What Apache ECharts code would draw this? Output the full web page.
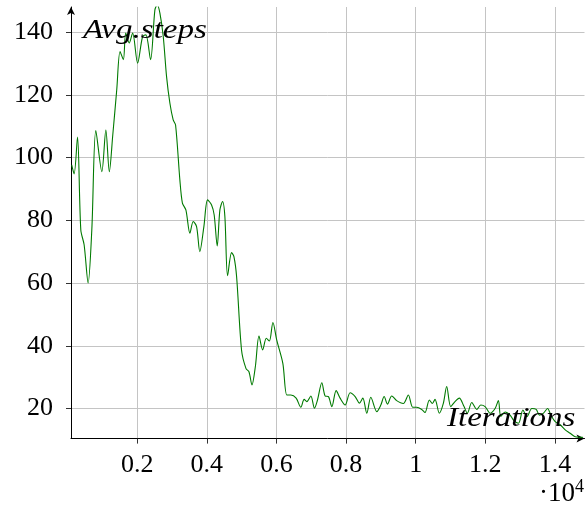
<!DOCTYPE html>
<html>
<head>
<meta charset="utf-8">
<script src="https://cdn.jsdelivr.net/npm/echarts@6/dist/echarts.min.js"></script>
<style>
html,body{margin:0;padding:0;background:#fff;}
#chart{width:587px;height:513px;}
</style>
</head>
<body>
<div id="chart"></div>
<script>
var iterations = [120,190,287,382,477,592,698,813,986,1101,1201,1300,1414,1509,1604,1672,1772,1870,2013,2157,2250,2385,2510,2576,2655,2750,2845,2940,3035,3104,3227,3300,3400,3515,3610,3707,3800,3917,4023,4138,4213,4300,4377,4454,4520,4598,4713,4780,4857,5000,5125,5212,5298,5395,5500,5606,5710,5797,5900,6010,6185,6300,6415,6567,6702,6797,6875,6990,7093,7180,7305,7400,7495,7592,7716,7830,7975,8118,8262,8385,8483,8597,8712,8885,9000,9095,9190,9312,9455,9646,9790,9915,10030,10174,10269,10393,10480,10556,10680,10795,10892,11007,11130,11254,11390,11485,11612,11755,11870,11994,12138,12282,12377,12446,12570,12713,12810,12954,13080,13195,13338,13462,13558,13673,13788,13885,14008,14152,14296,14440,14583,14800];
var avgSteps = [97.7,94.8,106.5,76.9,72.2,60,77,108.6,95.5,108.8,95.5,107.2,121.6,133.8,131.2,139.7,136.5,139.7,130.1,138.6,139.1,131.2,147.1,148.7,146,138.6,125.8,117.4,112,110.4,92.9,85.5,83.3,75.9,79.6,78,70,78,86.5,84.9,81.7,71.8,83.3,86,81.2,62.3,69.7,68.4,62.0,38.5,32.8,31.7,27.5,33.3,43.1,38.7,42.4,41.5,47.4,41.8,34.4,24.3,24.3,23.3,20.4,22.9,22.2,24,20.1,22.7,28.2,24,23.8,20.6,25.7,23.3,21.1,25,23.8,21.7,23.3,18.5,23.6,19,21.1,23.8,21.4,24,22.5,21.6,24.3,20.4,20.4,19.7,18.7,22.7,21.6,22.9,18.5,21.6,27,20.6,22.2,23.3,20.6,18.5,21.9,19.7,21.1,20.6,18.5,20,22.5,17.5,18.9,17.9,16.3,15.3,19.5,17.4,20,19.7,17.9,18.5,20,17.9,15.8,14.8,13.2,12.1,11,10.8];
var xTicks = [2000,4000,6000,8000,10000,12000,14000];
var yTicks = [20,40,60,80,100,120,140];
var xRange = [100, 14850];
var yRange = [10.4, 148];

var serif = '"Liberation Serif", "DejaVu Serif", serif';
var chart = echarts.init(document.getElementById('chart'), null, {renderer:'canvas'});
var pts = iterations.map(function(x,i){return [x, avgSteps[i]];});
chart.setOption({
  animation:false,
  backgroundColor:'#fff',
  grid:{left:71, right:2.5, top:7, bottom:74.4, containLabel:false, outerBoundsMode:'none'},
  xAxis:{
    type:'value', min:xRange[0], max:xRange[1],
    axisLine:{show:true, onZero:false, lineStyle:{color:'#000', width:1}, symbol:['none','arrow'], symbolSize:[6,8]},
    axisTick:{show:true, customValues:xTicks, length:5, lineStyle:{color:'#333'}},
    axisLabel:{customValues:xTicks, margin:14, color:'#000', fontFamily:serif, fontSize:26,
      formatter:function(v){return String(Math.round(v/1000)/10);}},
    splitLine:{show:true, lineStyle:{color:'#c4c4c4', width:1}}
  },
  yAxis:{
    type:'value', min:yRange[0], max:yRange[1],
    axisLine:{show:true, onZero:false, lineStyle:{color:'#000', width:1}, symbol:['none','arrow'], symbolSize:[6,8]},
    axisTick:{show:true, customValues:yTicks, length:5, lineStyle:{color:'#333'}},
    axisLabel:{customValues:yTicks, margin:18, color:'#000', fontFamily:serif, fontSize:26},
    splitLine:{show:true, lineStyle:{color:'#c4c4c4', width:1}}
  },
  graphic:[
    {type:'text', x:83, y:17, scaleX:1.18, z:100, style:{text:'Avg.steps', font:'italic 28px '+serif, fill:'#000', verticalAlign:'top', align:'left'}},
    {type:'text', x:447, y:405, scaleX:1.18, z:100, style:{text:'Iterations', font:'italic 28px '+serif, fill:'#000', verticalAlign:'top', align:'left'}},
    {type:'text', x:539, y:478, z:100, style:{
      text:'{a|·10}{b|4}', fill:'#000', verticalAlign:'top', align:'left',
      rich:{a:{fontFamily:serif, fontSize:27, fill:'#000'}, b:{fontFamily:serif, fontSize:18, fill:'#000', verticalAlign:'top', padding:[0,0,14,0]}}
    }}
  ],
  series:[{
    type:'line', data:pts, smooth:0.3, showSymbol:false, symbol:'none',
    lineStyle:{color:'#007a00', width:1.1}, clip:true
  }]
});
</script>
</body>
</html>
